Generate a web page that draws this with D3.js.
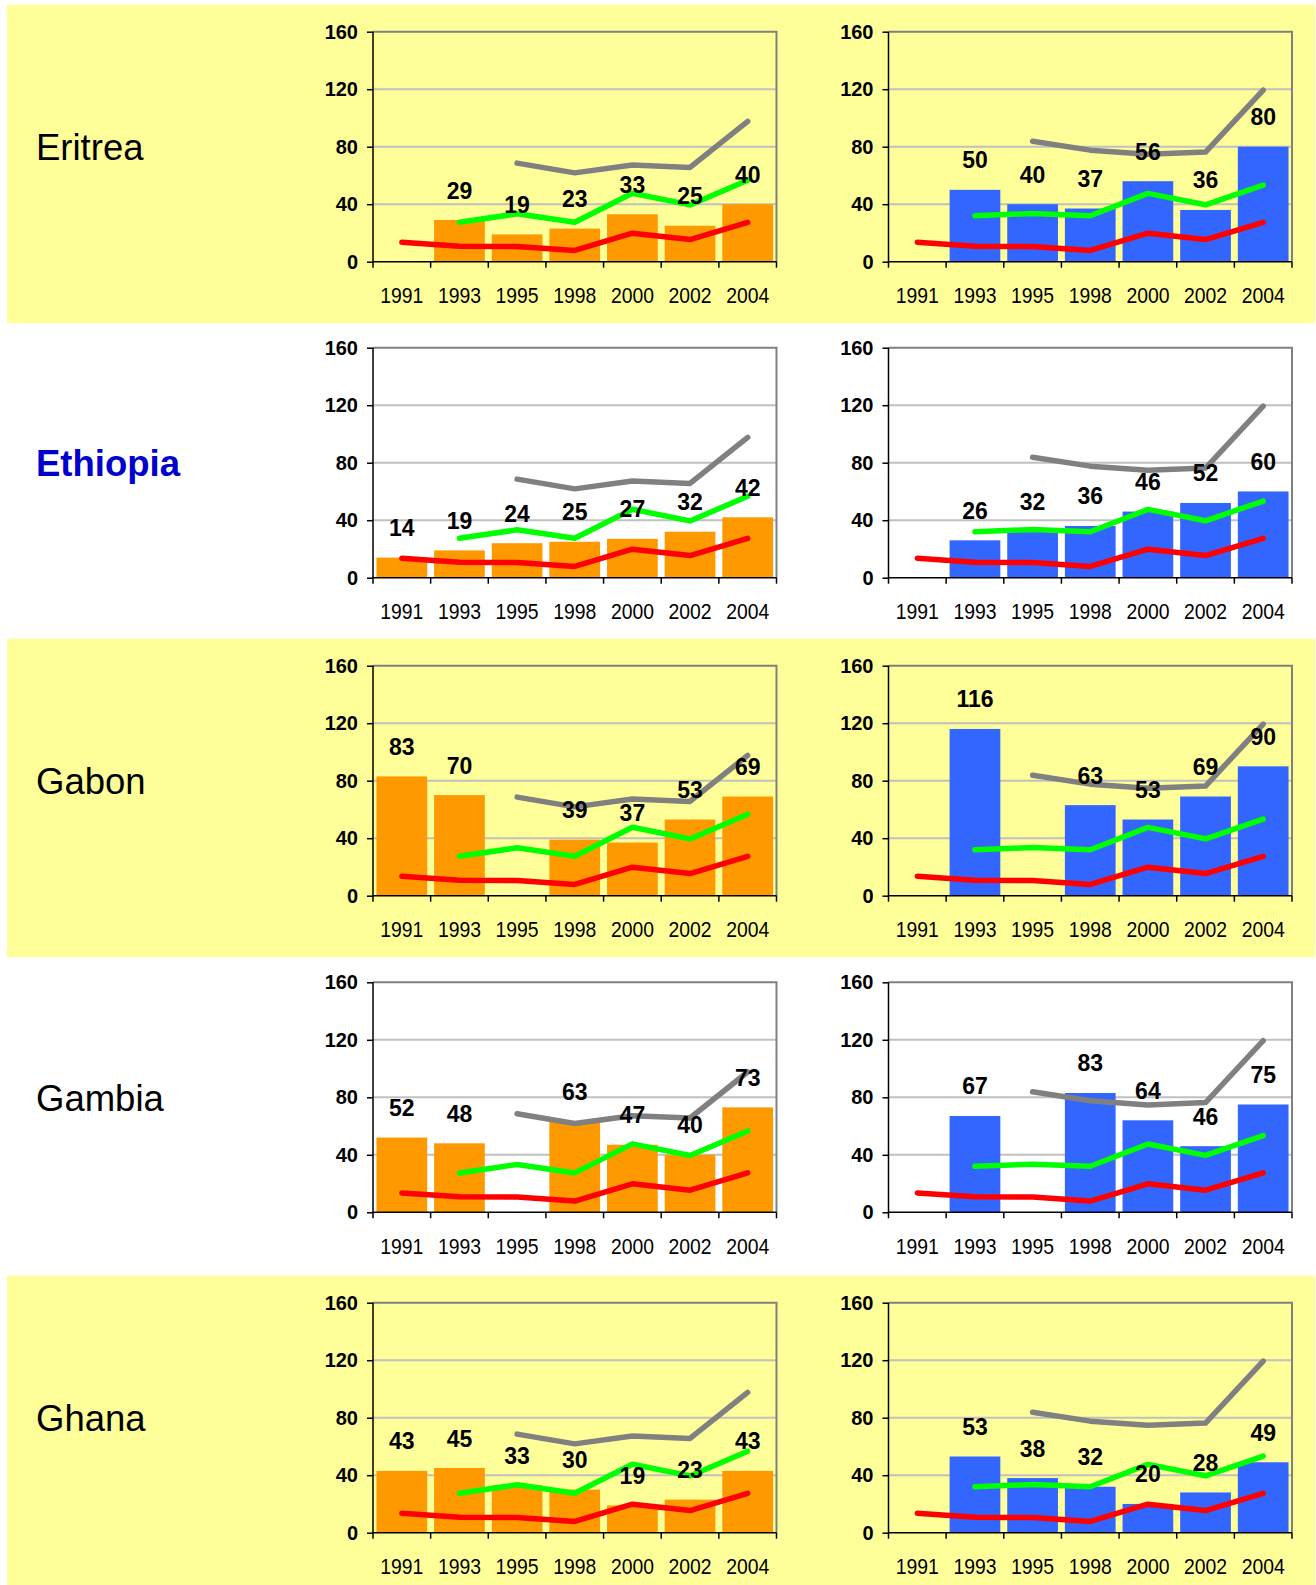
<!DOCTYPE html>
<html>
<head>
<meta charset="utf-8">
<script src="https://cdn.jsdelivr.net/npm/d3@7"></script>
<style>
  body { margin: 0; background: #fff; }
  svg { display: block; }
</style>
</head>
<body>
<script>
const years = ["1991", "1993", "1995", "1998", "2000", "2002", "2004"];
const countries = ["Eritrea", "Ethiopia", "Gabon", "Gambia", "Ghana"];
const countryColors = ["#000000", "#0000CC", "#000000", "#000000", "#000000"];

// orange bars (left charts), one row per country
const orangeValues = [
  [null, 29, 19, 23, 33, 25, 40],
  [14, 19, 24, 25, 27, 32, 42],
  [83, 70, null, 39, 37, 53, 69],
  [52, 48, null, 63, 47, 40, 73],
  [43, 45, 33, 30, 19, 23, 43]
];
// blue bars (right charts)
const blueValues = [
  [null, 50, 40, 37, 56, 36, 80],
  [null, 26, 32, 36, 46, 52, 60],
  [null, 116, null, 63, 53, 69, 90],
  [null, 67, null, 83, 64, 46, 75],
  [null, 53, 38, 32, 20, 28, 49]
];
// reference lines, same in every row
const redLine = [13.5, 10.8, 10.6, 7.8, 19.8, 15.4, 27.4];
const greenLeft = [null, 27.4, 33.3, 27.4, 47.6, 39.5, 56.6];
const grayLeft = [null, null, 68.6, 61.8, 67.2, 65.6, 97.6];
const greenRight = [null, 32, 33.5, 32, 47.5, 39.6, 53.3];
const grayRight = [null, null, 83.8, 77.6, 74.7, 76.3, 119.4];
const yTicks = [0, 40, 80, 120, 160];

const width = 1316, height = 1585;
const plotH = 230;
const rowTops = [31.7, 347.7, 665.7, 982.3, 1302.7];
const leftX = [373, 776.5], rightX = [888.5, 1292];
const font = "'Liberation Sans', Arial, sans-serif";

const svg = d3.select("body").append("svg")
  .attr("width", width)
  .attr("height", height)
  .attr("font-family", font);

// yellow bands on rows 1, 3, 5
rowTops.forEach((top, i) => {
  if (i % 2 !== 0) return;
  const y0 = top - 27;
  const y1 = i === rowTops.length - 1 ? height : top + 291.5;
  svg.append("rect")
    .attr("x", 7).attr("y", y0)
    .attr("width", 1308).attr("height", y1 - y0)
    .attr("fill", "#FFFF99");
});

const y = d3.scaleLinear().domain([0, 160]).range([plotH, 0]);

const drawChart = (g, w, bars, barColor, green, gray) => {
  const x = d3.scaleBand().domain(years).range([0, w]).paddingInner(0.12).paddingOuter(0.06);
  const slots = d3.scaleLinear().domain([0, years.length]).range([0, w]);
  const cx = i => x(years[i]) + x.bandwidth() / 2;

  // gridlines
  g.append("g").selectAll("line")
    .data([40, 80, 120])
    .enter().append("line")
    .attr("x1", 0).attr("x2", w)
    .attr("y1", d => y(d)).attr("y2", d => y(d))
    .attr("stroke", "#C0C0C0").attr("stroke-width", 2);

  // top + right border
  g.append("path")
    .attr("d", `M0,${y(160)}H${w}V${y(0)}`)
    .attr("fill", "none").attr("stroke", "#808080").attr("stroke-width", 2);

  // bars
  g.append("g").selectAll("rect")
    .data(bars.map((v, i) => ({ v, i })).filter(d => d.v != null))
    .enter().append("rect")
    .attr("x", d => x(years[d.i]))
    .attr("y", d => y(d.v))
    .attr("width", x.bandwidth())
    .attr("height", d => y(0) - y(d.v))
    .attr("fill", barColor);

  // lines
  const line = d3.line()
    .defined(d => d != null)
    .x((d, i) => cx(i))
    .y(d => y(d));
  [[gray, "#808080"], [green, "#00FF00"], [redLine, "#FF0000"]].forEach(([vals, c]) => {
    g.append("path")
      .attr("d", line(vals))
      .attr("fill", "none")
      .attr("stroke", c)
      .attr("stroke-width", 5.5)
      .attr("stroke-linejoin", "round")
      .attr("stroke-linecap", "round");
  });

  // axes
  const yAxis = g.append("g")
    .call(d3.axisLeft(y).tickValues(yTicks).tickSize(6).tickPadding(9));
  yAxis.select(".domain").remove();
  yAxis.selectAll("line").attr("stroke", "#000").attr("stroke-width", 1.5);
  yAxis.selectAll("text")
    .attr("font-size", 20).attr("font-weight", "bold").attr("fill", "#000")
    .attr("font-family", font);

  const xAxis = g.append("g")
    .attr("transform", `translate(0,${plotH})`)
    .call(d3.axisBottom(x).tickSize(0).tickPadding(26));
  xAxis.select(".domain").remove();
  xAxis.selectAll("text")
    .attr("font-size", 21.5).attr("fill", "#000")
    .attr("font-family", font)
    .attr("transform", "scale(0.9,1)");

  g.append("g").selectAll("line")
    .data(d3.range(years.length + 1))
    .enter().append("line")
    .attr("x1", d => slots(d)).attr("x2", d => slots(d))
    .attr("y1", plotH).attr("y2", plotH + 6)
    .attr("stroke", "#000").attr("stroke-width", 1.5);

  g.append("path")
    .attr("d", `M0,${y(160)}V${y(0)}H${w}`)
    .attr("fill", "none").attr("stroke", "#000").attr("stroke-width", 1.5);

  // data labels
  g.append("g").selectAll("text")
    .data(bars.map((v, i) => ({ v, i })).filter(d => d.v != null))
    .enter().append("text")
    .attr("x", d => cx(d.i))
    .attr("y", d => y(d.v) - 21.5)
    .attr("text-anchor", "middle")
    .attr("font-size", 23)
    .attr("font-weight", "bold")
    .attr("fill", "#000")
    .text(d => d.v);
};

countries.forEach((name, r) => {
  const top = rowTops[r];

  svg.append("text")
    .attr("x", 36)
    .attr("y", top + plotH / 2 + 13.5)
    .attr("font-size", 36.5)
    .attr("font-weight", r === 1 ? "bold" : "normal")
    .attr("fill", countryColors[r])
    .text(name);

  const gl = svg.append("g").attr("transform", `translate(${leftX[0]},${top})`);
  drawChart(gl, leftX[1] - leftX[0], orangeValues[r], "#FF9900", greenLeft, grayLeft);

  const gr = svg.append("g").attr("transform", `translate(${rightX[0]},${top})`);
  drawChart(gr, rightX[1] - rightX[0], blueValues[r], "#3366FF", greenRight, grayRight);
});
</script>
</body>
</html>
